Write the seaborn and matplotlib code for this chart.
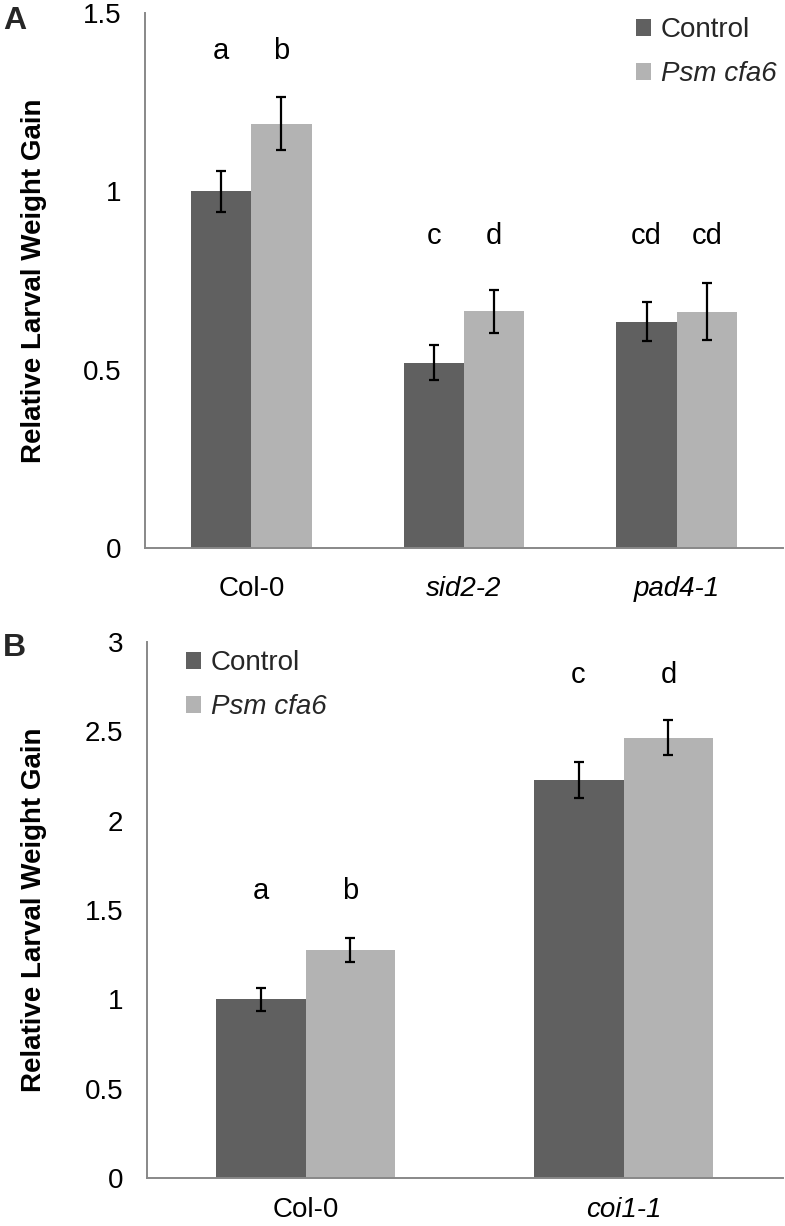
import matplotlib
matplotlib.use("Agg")
import matplotlib.pyplot as plt
import seaborn as sns
import pandas as pd
from matplotlib.patches import Patch

sns.set_theme(style="white")
plt.rcParams['font.family'] = ['Liberation Sans', 'DejaVu Sans']

# ---------------- data ----------------
treatments = ["Control", "Psm cfa6"]
colors = ["#606060", "#b3b3b3"]

genotypes_a = ["Col-0", "sid2-2", "pad4-1"]
italic_a = [False, True, True]
control_a = [1.00, 0.52, 0.635]
control_a_err = [0.058, 0.049, 0.054]
psm_a = [1.19, 0.664, 0.662]
psm_a_err = [0.074, 0.060, 0.080]
letters_a_control = ["a", "c", "cd"]
letters_a_psm = ["b", "d", "cd"]
letter_y_a = [1.371, 0.851, 0.851]
yticks_a = [0, 0.5, 1, 1.5]

genotypes_b = ["Col-0", "coi1-1"]
italic_b = [False, True]
control_b = [1.00, 2.227]
control_b_err = [0.063, 0.100]
psm_b = [1.278, 2.465]
psm_b_err = [0.068, 0.098]
letters_b_control = ["a", "c"]
letters_b_psm = ["b", "d"]
letter_y_b = [1.564, 2.771]
yticks_b = [0, 0.5, 1, 1.5, 2, 2.5, 3]

W, H = 785, 1226
fig = plt.figure(figsize=(W / 100, H / 100), dpi=100)

AXIS_GRAY = "#888888"
FS = 20


def draw_panel(ax, genotypes, italic, ctrl, ctrl_err, psm, psm_err,
               lc, lp, ly, yticks, xpad, legend_anchor, label_x):
    df = pd.DataFrame({
        "genotype": genotypes * 2,
        "treatment": [treatments[0]] * len(genotypes) + [treatments[1]] * len(genotypes),
        "value": list(ctrl) + list(psm),
    })
    sns.barplot(data=df, x="genotype", y="value", hue="treatment",
                order=genotypes, hue_order=treatments, palette=colors,
                saturation=1, width=0.566, gap=0, errorbar=None,
                legend=False, linewidth=0, ax=ax)
    conts = list(ax.containers)
    for cont, errs, letters in zip(conts, [ctrl_err, psm_err], [lc, lp]):
        for bar, e, l, y in zip(cont, errs, letters, ly):
            cx = bar.get_x() + bar.get_width() / 2
            ax.errorbar(cx, bar.get_height(), yerr=e, color="black",
                        capsize=3.8, elinewidth=1.6, capthick=1.6, zorder=5)
            ax.text(cx, y, l, ha="center", va="baseline", fontsize=FS + 1,
                    color="black")
    ax.set_xlim(-0.5, len(genotypes) - 0.5)
    ax.set_ylim(yticks[0], yticks[-1])
    ax.set_yticks(yticks)
    ax.set_yticklabels([f"{t:g}" for t in yticks])
    for s in ["top", "right"]:
        ax.spines[s].set_visible(False)
    for s in ["left", "bottom"]:
        ax.spines[s].set_color(AXIS_GRAY)
        ax.spines[s].set_linewidth(1.4)
    ax.tick_params(axis="y", direction="out", length=5.8, width=1.2,
                   color=AXIS_GRAY, pad=11, labelsize=FS, labelcolor="black")
    ax.tick_params(axis="x", length=0, pad=xpad, labelsize=FS,
                   labelcolor="black")
    for lab, it in zip(ax.get_xticklabels(), italic):
        if it:
            lab.set_fontstyle("italic")
    ax.set_xlabel("")
    ax.set_ylabel("Relative Larval Weight Gain", fontsize=FS,
                  fontweight="bold", color="black")
    ax.yaxis.set_label_coords(label_x, 0.5)
    handles = [Patch(facecolor=c, edgecolor="none") for c in colors]
    leg = ax.legend(handles, treatments, frameon=False, loc="upper left",
                    bbox_to_anchor=legend_anchor, bbox_transform=fig.transFigure,
                    handlelength=0.55, handleheight=0.55, handletextpad=0.35,
                    labelspacing=0.65, fontsize=FS, borderpad=0,
                    borderaxespad=0)
    leg.get_texts()[1].set_fontstyle("italic")
    ax.set_facecolor("white")


ax_a = fig.add_axes([145 / W, 1 - 548 / H, (783 - 145) / W, (548 - 13) / H])
draw_panel(ax_a, genotypes_a, italic_a, control_a, control_a_err, psm_a,
           psm_a_err, letters_a_control, letters_a_psm, letter_y_a,
           yticks_a, 20, (636 / W, 1 - 17 / H), -0.154)

ax_b = fig.add_axes([146.5 / W, 1 - 1178 / H, (782.5 - 146.5) / W, (1178 - 642) / H])
draw_panel(ax_b, genotypes_b, italic_b, control_b, control_b_err, psm_b,
           psm_b_err, letters_b_control, letters_b_psm, letter_y_b,
           yticks_b, 14, (186 / W, 1 - 650 / H), -0.157)

fig.text(3 / W, 1 - 6 / H, "A", ha="left", va="top", fontsize=23,
         fontweight="bold")
fig.text(3 / W, 1 - 633 / H, "B", ha="left", va="top", fontsize=23,
         fontweight="bold")

fig.savefig("out.png", dpi=100, facecolor="white")
